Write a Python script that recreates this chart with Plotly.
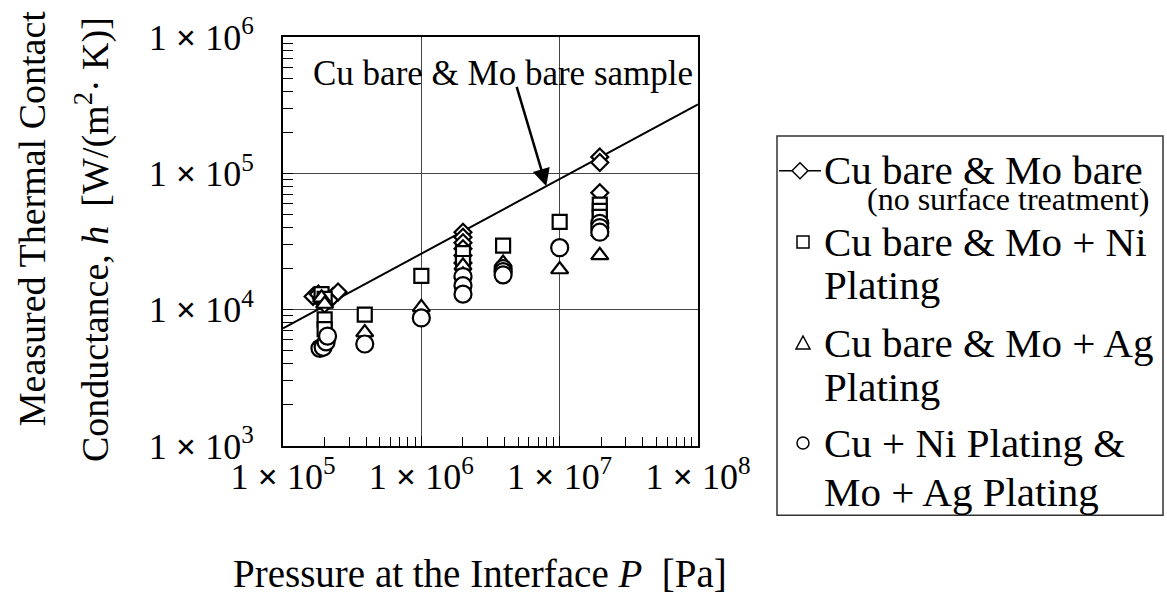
import numpy as np
import plotly.graph_objects as go

# ---- measured data: interface pressure P [Pa] and conductance h [W/(m^2 K)] ----
# Cu bare & Mo bare (no surface treatment)
bare_p = [1.65e5, 1.8e5, 1.9e5, 2.0e5, 2.3e5, 2.5e5,
          2.0e6, 2.0e6, 2.0e6, 2.0e6, 2.0e6, 2.0e6,
          1.95e7, 1.95e7, 1.95e7]
bare_h = [1.25e4, 1.3e4, 1.2e4, 1.1e4, 1.25e4, 1.35e4,
          3.7e4, 3.4e4, 3.1e4, 2.8e4, 2.5e4, 2.2e4,
          1.32e5, 1.2e5, 7.2e4]

# Cu bare & Mo + Ni plating
ni_p = [1.9e5, 2.0e5, 2.0e5, 2.0e5, 3.9e5, 1.0e6, 2.0e6, 2.0e6, 3.9e6, 1.0e7,
        1.95e7, 1.95e7, 1.95e7]
ni_h = [1.3e4, 1.2e4, 8.5e3, 7.2e3, 9.2e3, 1.77e4, 2.6e4, 2.2e4, 2.95e4, 4.4e4,
        5.9e4, 5.3e4, 4.8e4]

# Cu bare & Mo + Ag plating
ag_p = [1.9e5, 2.0e5, 3.9e5, 1.0e6, 2.0e6, 2.0e6, 3.9e6, 3.9e6, 1.0e7, 1.95e7, 1.95e7]
ag_h = [1.22e4, 1.1e4, 6.8e3, 1.04e4, 2.1e4, 1.8e4, 2.2e4, 2.0e4, 1.97e4, 3.7e4, 2.5e4]

# Cu + Ni plating & Mo + Ag plating
niag_p = [1.85e5, 1.95e5, 2.05e5, 2.1e5, 3.9e5, 1.0e6, 2.0e6, 2.0e6, 2.0e6,
          3.9e6, 3.9e6, 3.9e6, 1.0e7, 1.95e7, 1.95e7, 1.95e7]
niag_h = [5.2e3, 5.3e3, 5.8e3, 6.4e3, 5.6e3, 8.7e3, 1.75e4, 1.5e4, 1.3e4,
          2.0e4, 1.9e4, 1.8e4, 2.85e4, 4.3e4, 4.0e4, 3.7e4]

# power-law line for the bare sample pair
fit_p = [1.0e5, 1.0e8]
fit_h = [7.3e3, 3.2e5]

# axis decades and labels
x_ticks = [1e5, 1e6, 1e7, 1e8]
y_ticks = [1e3, 1e4, 1e5, 1e6]
x_labels = ["1 <b>×</b> 10<sup>5</sup>", "1 <b>×</b> 10<sup>6</sup>",
            "1 <b>×</b> 10<sup>7</sup>", "1 <b>×</b> 10<sup>8</sup>"]
y_labels = ["1 <b>×</b> 10<sup>3</sup>", "1 <b>×</b> 10<sup>4</sup>",
            "1 <b>×</b> 10<sup>5</sup>", "1 <b>×</b> 10<sup>6</sup>"]

FONT = "Liberation Serif"
W, H = 1167, 603
L, R, T, B = 283, 698, 33, 446   # plot frame in pixels


def px(x):
    return (x - L) / (R - L)


def py(y):
    return (B - y) / (B - T)


def minor_vals(decades):
    return [m * d for d in decades[:-1] for m in range(2, 10)]


fig = go.Figure()

fig.add_trace(go.Scatter(x=fit_p, y=fit_h, mode="lines",
                         line=dict(color="black", width=2), hoverinfo="skip"))

marker_line = dict(color="black", width=2.2)
series = [
    (bare_p, bare_h, "diamond", 13),
    (ni_p, ni_h, "square", 14),
    (ag_p, ag_h, "triangle-up", 15),
    (niag_p, niag_h, "circle", 17),
]
for xs, ys, sym, size in series:
    fig.add_trace(go.Scatter(x=xs, y=ys, mode="markers",
                             marker=dict(symbol=sym, size=size, color="white",
                                         line=marker_line)))

axis_common = dict(
    type="log", showline=True, mirror=True, linecolor="black", linewidth=2,
    showgrid=True, gridcolor="#444", gridwidth=1.2, zeroline=False,
    ticks="inside", ticklen=10, tickcolor="black",
    tickfont=dict(family=FONT, size=36, color="black"),
)

fig.update_layout(
    width=W, height=H, autosize=False,
    margin=dict(l=L, r=W - R, t=T, b=H - B),
    paper_bgcolor="white", plot_bgcolor="white",
    showlegend=False,
    xaxis=dict(axis_common, range=[5, 8], tickmode="array", tickvals=x_ticks,
               ticktext=x_labels, ticklabelstandoff=-2,
               minor=dict(tickmode="array", tickvals=minor_vals(x_ticks), ticks="inside",
                          ticklen=9, tickcolor="black", showgrid=False)),
    yaxis=dict(axis_common, range=[3, 6], tickmode="array", tickvals=y_ticks,
               ticktext=y_labels, ticklabelstandoff=20,
               minor=dict(tickmode="array", tickvals=minor_vals(y_ticks), ticks="inside",
                          ticklen=10, tickcolor="black", showgrid=False)),
)

annotations = []

# axis titles
annotations.append(dict(xref="paper", yref="paper", x=px(480), y=py(575),
                        text="Pressure at the Interface <i>P</i>  [Pa]", showarrow=False,
                        xanchor="center", yanchor="middle",
                        font=dict(family=FONT, size=39, color="black")))
annotations.append(dict(xref="paper", yref="paper", x=px(32), y=py(217),
                        text="Measured Thermal Contact", showarrow=False, textangle=-90,
                        xanchor="center", yanchor="middle",
                        font=dict(family=FONT, size=38, color="black")))
annotations.append(dict(xref="paper", yref="paper", x=px(92), y=py(238),
                        text="Conductance, <i>h</i>  [W/(m<sup>2</sup>· K)]", showarrow=False,
                        textangle=-90, xanchor="center", yanchor="middle",
                        font=dict(family=FONT, size=38, color="black")))

# label with arrow pointing at the bare-sample line
slope = np.log10(fit_h[1] / fit_h[0]) / np.log10(fit_p[1] / fit_p[0])
tip_lp = np.log10(8.0e6)
tip_lh = np.log10(fit_h[0]) + slope * (tip_lp - np.log10(fit_p[0]))
annotations.append(dict(xref="paper", yref="paper", x=px(503), y=py(70),
                        text="Cu bare & Mo bare sample", showarrow=False,
                        xanchor="center", yanchor="middle",
                        font=dict(family=FONT, size=35, color="black")))
annotations.append(dict(x=tip_lp, y=tip_lh, xref="x", yref="y", text="",
                        showarrow=True, arrowhead=2, arrowsize=1.4, arrowwidth=2.5,
                        arrowcolor="black", ax=-30, ay=-101, axref="pixel", ayref="pixel"))

# legend text
legend_font = dict(family=FONT, size=41, color="black")
legend_lines = [
    ("Cu bare & Mo bare", 822, 167, legend_font, "left"),
    ("(no surface treatment)", 1152, 197, dict(family=FONT, size=32, color="black"), "right"),
    ("Cu bare & Mo + Ni", 822, 240, legend_font, "left"),
    ("Plating", 822, 283, legend_font, "left"),
    ("Cu bare & Mo + Ag", 822, 342, legend_font, "left"),
    ("Plating", 822, 386, legend_font, "left"),
    ("Cu + Ni Plating &", 822, 443, legend_font, "left"),
    ("Mo + Ag Plating", 822, 492, legend_font, "left"),
]
for txt, x, y, f, anchor in legend_lines:
    annotations.append(dict(xref="paper", yref="paper", x=px(x), y=py(y), text=txt,
                            showarrow=False, xanchor=anchor, yanchor="middle", font=f))
fig.update_layout(annotations=annotations)

# legend frame and symbols
shapes = [
    dict(type="rect", xref="paper", yref="paper", x0=px(777), x1=px(1163),
         y0=py(516), y1=py(133), line=dict(color="#333", width=1.5)),
    dict(type="line", xref="paper", yref="paper", x0=px(779), x1=px(821),
         y0=py(168), y1=py(168), line=dict(color="black", width=1.5)),
]
sym_line = dict(color="black", width=1.5)


def pixel_shape(kind, cx, cy, **kw):
    d = dict(type=kind, xref="paper", yref="paper", xsizemode="pixel", ysizemode="pixel",
             xanchor=px(cx), yanchor=py(cy), line=sym_line, fillcolor="white")
    d.update(kw)
    return d


shapes.append(pixel_shape("path", 800, 168, path="M -8 0 L 0 8 L 8 0 L 0 -8 Z"))
shapes.append(pixel_shape("rect", 803, 240, x0=-6, x1=6, y0=-6, y1=6))
shapes.append(pixel_shape("path", 803, 342, path="M -7 -6 L 7 -6 L 0 7 Z"))
shapes.append(pixel_shape("circle", 803, 443, x0=-6, x1=6, y0=-6, y1=6))
fig.update_layout(shapes=shapes)

fig.write_html("out.html")
